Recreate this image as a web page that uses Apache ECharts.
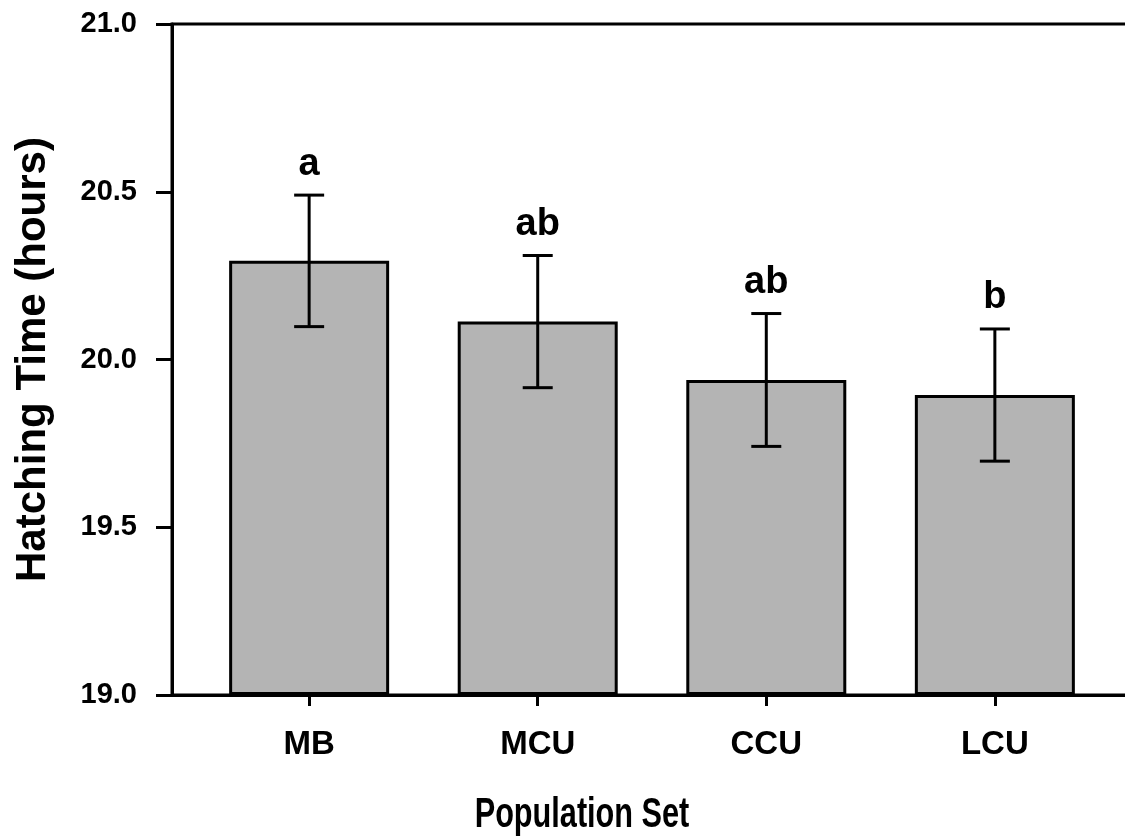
<!DOCTYPE html>
<html>
<head>
<meta charset="utf-8">
<script src="https://cdn.jsdelivr.net/npm/echarts@6/dist/echarts.min.js"></script>
<style>
  html, body { margin: 0; padding: 0; background: #fff; }
  #chart { width: 1125px; height: 838px; }
</style>
</head>
<body>
<div id="chart"></div>
<script>
const populations = ['MB', 'MCU', 'CCU', 'LCU']
const meanHours = [20.294, 20.113, 19.939, 19.894]
const errHours = [0.196, 0.197, 0.198, 0.197]
const groupLetters = ['a', 'ab', 'ab', 'b']
const yMin = 19
const yMax = 21
const yStep = 0.5

const FONT = "'Liberation Sans', Arial, sans-serif"
const positions = populations.map((p, i) => i)

const chart = echarts.init(document.getElementById('chart'))

// whisker + significance letter for each bar
function renderErrorBar(params, api) {
  const x = api.value(0)
  const hi = api.coord([x, api.value(2)])
  const lo = api.coord([x, api.value(1)])
  const cap = 15
  const stroke = { stroke: '#000', lineWidth: 3 }
  return {
    type: 'group',
    children: [
      { type: 'line', shape: { x1: hi[0], y1: hi[1], x2: lo[0], y2: lo[1] }, style: stroke },
      { type: 'line', shape: { x1: hi[0] - cap, y1: hi[1], x2: hi[0] + cap, y2: hi[1] }, style: stroke },
      { type: 'line', shape: { x1: lo[0] - cap, y1: lo[1], x2: lo[0] + cap, y2: lo[1] }, style: stroke },
      {
        type: 'text',
        x: hi[0],
        y: hi[1] - 12,
        style: {
          text: groupLetters[params.dataIndex],
          fill: '#000',
          font: 'bold 38px ' + FONT,
          align: 'center',
          verticalAlign: 'bottom'
        }
      }
    ]
  }
}

const option = {
  animation: false,
  backgroundColor: '#fff',
  grid: {
    left: 172,
    top: 24,
    width: 960,
    height: 671,
    outerBoundsMode: 'none',
    show: true,
    borderColor: '#000',
    borderWidth: 3
  },
  xAxis: {
    type: 'value',
    min: -0.6,
    max: 3.6,
    splitLine: { show: false },
    axisLine: { show: true, onZero: false, lineStyle: { color: '#000', width: 3 } },
    axisTick: { show: true, customValues: positions, length: 11, lineStyle: { color: '#000', width: 3 } },
    axisLabel: {
      customValues: positions,
      formatter: (v) => populations[Math.round(v)],
      color: '#000',
      fontFamily: FONT,
      fontWeight: 'bold',
      fontSize: 33,
      margin: 33
    }
  },
  yAxis: {
    type: 'value',
    min: yMin,
    max: yMax,
    interval: yStep,
    startValue: yMin,
    splitLine: { show: false },
    axisLine: { show: true, onZero: false, lineStyle: { color: '#000', width: 3 } },
    axisTick: { show: true, length: 16, lineStyle: { color: '#000', width: 3 } },
    axisLabel: {
      formatter: (v) => v.toFixed(1),
      color: '#000',
      fontFamily: FONT,
      fontWeight: 'bold',
      fontSize: 29,
      margin: 35
    },
    name: 'Hatching Time (hours)',
    nameLocation: 'middle',
    nameGap: 118,
    nameTextStyle: { color: '#000', fontFamily: FONT, fontWeight: 'bold', fontSize: 42 }
  },
  graphic: [{
    type: 'text',
    x: 582,
    y: 815,
    scaleX: 0.73,
    style: {
      text: 'Population Set',
      fill: '#000',
      font: 'bold 42px ' + FONT,
      align: 'center',
      verticalAlign: 'middle'
    }
  }],
  series: [
    {
      type: 'bar',
      barWidth: 160,
      data: populations.map((p, i) => [i, meanHours[i]]),
      itemStyle: { color: '#b4b4b4', borderColor: '#000', borderWidth: 3 }
    },
    {
      type: 'custom',
      renderItem: renderErrorBar,
      z: 5,
      data: populations.map((p, i) => [i, meanHours[i] - errHours[i], meanHours[i] + errHours[i]])
    }
  ]
}

chart.setOption(option)
</script>
</body>
</html>
